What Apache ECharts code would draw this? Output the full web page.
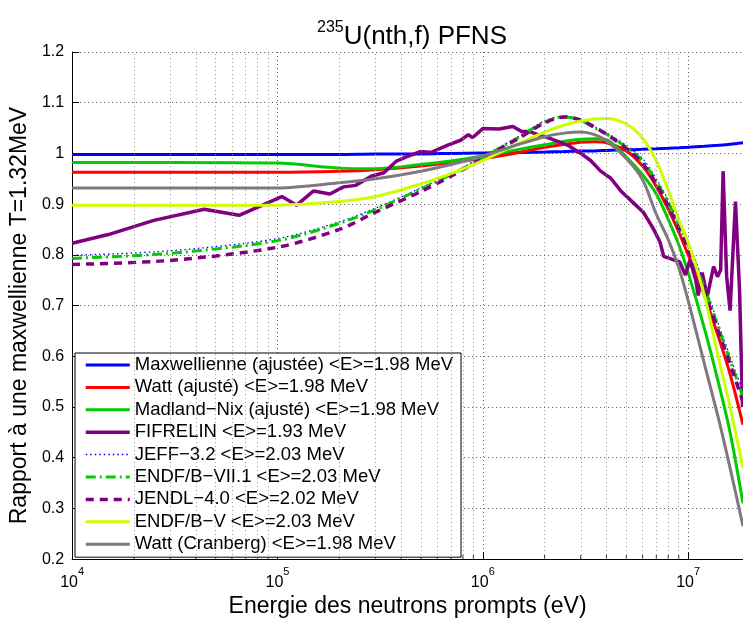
<!DOCTYPE html>
<html><head><meta charset="utf-8">
<script src="https://cdn.jsdelivr.net/npm/echarts@6/dist/echarts.min.js"></script>
<style>html,body{margin:0;padding:0;background:#fff}#c{width:743px;height:623px}</style>
</head><body><div id="c"></div><script>
// ---- data ----
const energies = [1e4, 3e4, 1e5, 2e5, 3e5, 5e5, 7e5, 1e6, 1.5e6, 2e6, 2.5e6, 3e6, 3.5e6, 4e6, 5e6, 6e6, 7e6, 8e6, 9e6, 1e7, 1.2e7, 1.4e7, 1.6e7, 1.85e7];
const maxwell  = [0.998,0.998,0.998,0.998,0.999,0.999,1.000,1.001,1.002,1.003,1.004,1.005,1.005,1.006,1.007,1.008,1.009,1.010,1.011,1.012,1.014,1.016,1.018,1.021];
const wattFit  = [0.963,0.963,0.963,0.965,0.968,0.975,0.982,0.990,1.002,1.012,1.018,1.022,1.023,1.021,1.005,0.975,0.935,0.890,0.845,0.800,0.720,0.640,0.565,0.465];
const madland  = [0.982,0.982,0.981,0.971,0.970,0.978,0.985,0.995,1.008,1.017,1.024,1.028,1.029,1.027,0.993,0.958,0.920,0.870,0.820,0.765,0.655,0.550,0.450,0.310];
const jeff32   = [0.799,0.808,0.832,0.865,0.892,0.932,0.960,0.994,1.034,1.064,1.074,1.067,1.053,1.041,1.016,0.990,0.950,0.908,0.864,0.826,0.742,0.665,0.600,0.530];
const endf71   = [0.793,0.803,0.828,0.862,0.889,0.930,0.958,0.992,1.032,1.062,1.072,1.065,1.050,1.038,1.012,0.985,0.945,0.903,0.858,0.820,0.735,0.658,0.592,0.520];
const jendl40  = [0.781,0.789,0.815,0.850,0.884,0.925,0.955,0.990,1.030,1.060,1.072,1.066,1.052,1.038,1.010,0.980,0.940,0.897,0.852,0.812,0.728,0.650,0.585,0.510];
const endfB5   = [0.898,0.898,0.898,0.905,0.915,0.940,0.960,0.986,1.020,1.042,1.056,1.064,1.068,1.069,1.058,1.030,0.985,0.928,0.870,0.825,0.720,0.600,0.500,0.380];
const wattCran = [0.932,0.932,0.932,0.942,0.950,0.965,0.978,0.995,1.018,1.033,1.040,1.042,1.037,1.025,0.990,0.948,0.880,0.830,0.775,0.710,0.585,0.480,0.380,0.265];
const fifE = [1e4,1.5e4,2.5e4,4.4e4,6.5e4,1.05e5,1.24e5,1.5e5,1.8e5,2.1e5,2.4e5,2.86e5,3.3e5,3.8e5,4.3e5,5e5,5.6e5,6.8e5,7.8e5,8.5e5,8.9e5,1e6,1.2e6,1.4e6,1.55e6,1.7e6,1.85e6,2.07e6,2.6e6,3e6,3.35e6,3.75e6,4.2e6,4.7e6,5.4e6,6.05e6,6.4e6,6.8e6,7.3e6,7.6e6,8.5e6,9.1e6,9.7e6,1.02e7,1.09e7,1.12e7,1.17e7,1.24e7,1.33e7,1.39e7,1.44e7,1.48e7,1.54e7,1.6e7,1.7e7,1.78e7,1.84e7];
const fifV = [0.823,0.840,0.868,0.890,0.878,0.915,0.898,0.926,0.920,0.934,0.937,0.955,0.962,0.985,0.994,1.004,1.002,1.017,1.026,1.037,1.031,1.049,1.048,1.053,1.043,1.043,1.037,1.031,1.016,1.000,0.986,0.965,0.951,0.926,0.903,0.884,0.868,0.850,0.825,0.797,0.790,0.786,0.760,0.790,0.750,0.720,0.765,0.718,0.777,0.757,0.770,0.965,0.757,0.690,0.905,0.730,0.500];
const minorTicks = [2e4,3e4,4e4,5e4,6e4,7e4,8e4,9e4,2e5,3e5,4e5,5e5,6e5,7e5,8e5,9e5,2e6,3e6,4e6,5e6,6e6,7e6,8e6,9e6];
const seriesNames = ['Maxwellienne (ajustée) <E>=1.98 MeV','Watt (ajusté) <E>=1.98 MeV','Madland\u2212Nix (ajusté) <E>=1.98 MeV','FIFRELIN <E>=1.93 MeV','JEFF\u22123.2 <E>=2.03 MeV','ENDF/B\u2212VII.1 <E>=2.03 MeV','JENDL\u22124.0 <E>=2.02 MeV','ENDF/B\u2212V <E>=2.03 MeV','Watt (Cranberg) <E>=1.98 MeV'];

// ---- chart ----
const F = '"Liberation Sans", Arial, Helvetica, sans-serif';
const pair = (xs, ys) => xs.map((x, i) => [x, ys[i]]);
function lineSeries(name, xs, ys, color, width, type, smooth) {
  return { name, type: 'line', data: pair(xs, ys), symbol: 'none', showSymbol: false, smooth: smooth,
    lineStyle: { color, width, type }, itemStyle: { color }, animation: false, z: 3 };
}
const legendWidths = [3, 3, 3, 3.5, 1.5, 3, 3.5, 3, 3];
const chart = echarts.init(document.getElementById('c'), null, { renderer: 'canvas' });
const option = {
  backgroundColor: '#fff',
  animation: false,
  title: {
    text: '{s|235}{b|U(nth,f) PFNS}', left: 412, top: 20, textAlign: 'center', padding: 0,
    textStyle: { fontWeight: 'normal', rich: {
      s: { fontFamily: F, fontSize: 16, fontWeight: 'normal', color: '#000', lineHeight: 14, verticalAlign: 'top' },
      b: { fontFamily: F, fontSize: 26, fontWeight: 'normal', color: '#000', lineHeight: 30, verticalAlign: 'bottom' }
    } }
  },
  grid: { left: 70, top: 52, bottom: 56, right: 0, containLabel: false },
  legend: {
    data: seriesNames.map((n, i) => ({ name: n, lineStyle: { width: legendWidths[i] } })),
    orient: 'vertical', left: 75, top: 353,
    itemWidth: 44, itemHeight: 12, itemGap: 2.4, padding: [2, 8, 3, 9],
    backgroundColor: '#fff', borderColor: '#000', borderWidth: 1, borderRadius: 0,
    itemStyle: { opacity: 0 },
    textStyle: { fontFamily: F, fontSize: 18.5, color: '#000', lineHeight: 20 },
    selectedMode: false, z: 5
  },
  xAxis: {
    type: 'log', logBase: 10, min: 1e4, max: 1.85e7,
    name: 'Energie des neutrons prompts (eV)', nameLocation: 'middle', nameGap: 26,
    nameTextStyle: { fontFamily: F, fontSize: 23, color: '#000' },
    axisLine: { onZero: false, lineStyle: { color: '#000', width: 1 } },
    axisTick: { inside: true, length: 7, lineStyle: { color: '#000' } },
    axisLabel: {
      margin: 7, showMaxLabel: false,
      formatter: v => {
        const e = Math.log10(v);
        if (Math.abs(e - Math.round(e)) > 1e-6) return '';
        return '{b|10}{s|' + Math.round(e) + '}';
      },
      rich: {
        b: { fontFamily: F, fontSize: 16, color: '#000', lineHeight: 24, verticalAlign: 'bottom' },
        s: { fontFamily: F, fontSize: 11, color: '#000', lineHeight: 12, verticalAlign: 'top' }
      }
    },
    splitLine: { show: true, lineStyle: { color: '#555', type: [1, 3], width: 1 } }
  },
  yAxis: {
    type: 'value', min: 0.2, max: 1.2, interval: 0.1,
    name: 'Rapport à une maxwellienne T=1.32MeV', nameLocation: 'middle', nameGap: 28,
    nameTextStyle: { fontFamily: F, fontSize: 23, color: '#000', padding: [0, 20, 0, 0] },
    axisLine: { show: true, lineStyle: { color: '#000', width: 1 } },
    axisTick: { show: true, inside: true, length: 7, lineStyle: { color: '#000' } },
    axisLabel: { fontFamily: F, fontSize: 16, color: '#000', margin: 8,
      formatter: v => String(Math.round(v * 10) / 10) },
    splitLine: { show: true, lineStyle: { color: '#555', type: [1, 3], width: 1 } }
  },
  series: [
    {
      name: 'minor', type: 'scatter', data: minorTicks.map(e => [e, 0.2]),
      symbol: 'rect', symbolSize: [1, 4], symbolOffset: [0, -2],
      itemStyle: { color: '#000' }, silent: true, animation: false, clip: false, z: 1,
      markLine: {
        silent: true, symbol: ['none', 'none'], label: { show: false }, animation: false,
        lineStyle: { color: '#999', type: [1, 3], width: 1 },
        data: minorTicks.map(e => ({ xAxis: e }))
      }
    },
    lineSeries(seriesNames[0], energies, maxwell, '#0000FF', 3, 'solid', 0.3),
    lineSeries(seriesNames[1], energies, wattFit, '#FF0000', 3, 'solid', 0.3),
    lineSeries(seriesNames[2], energies, madland, '#00CC00', 3, 'solid', 0.3),
    lineSeries(seriesNames[3], fifE, fifV, '#800080', 3.5, 'solid', false),
    lineSeries(seriesNames[4], energies, jeff32, '#0000FF', 1.3, [1.5, 3], 0.3),
    lineSeries(seriesNames[5], energies, endf71, '#00CC00', 3, [10, 4, 2, 4], 0.3),
    lineSeries(seriesNames[6], energies, jendl40, '#800080', 3.5, [8, 6], 0.3),
    lineSeries(seriesNames[7], energies, endfB5, '#CCFF00', 3, 'solid', 0.3),
    lineSeries(seriesNames[8], energies, wattCran, '#807880', 3, 'solid', 0.3)
  ]
};
chart.setOption(option);
</script></body></html>
